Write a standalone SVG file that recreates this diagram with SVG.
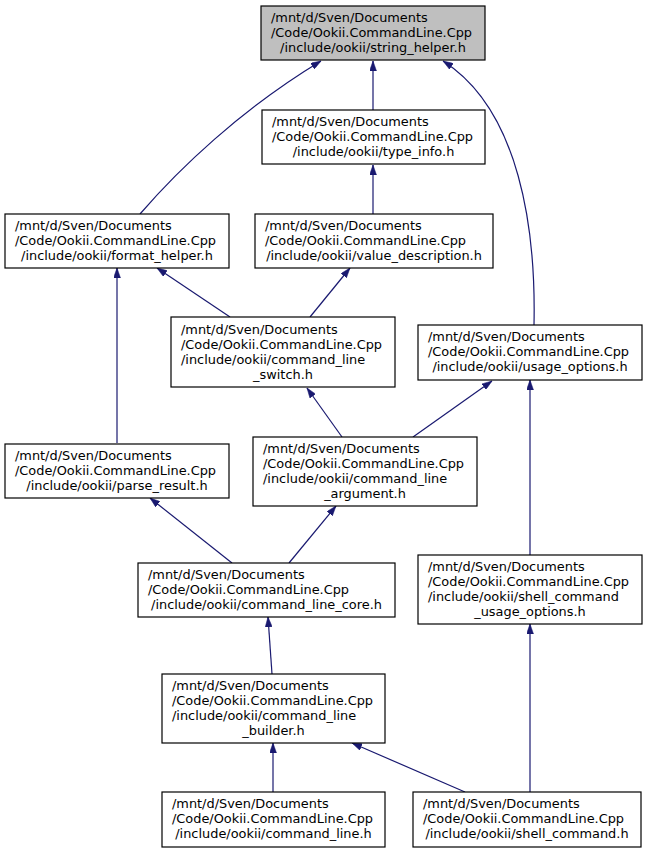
<svg xmlns="http://www.w3.org/2000/svg" width="648" height="853" viewBox="0 0 648 853">
<style>
rect.n{fill:#ffffff;stroke:#000000;stroke-width:1.2}
rect.hl{fill:#bfbfbf}
text{font-family:"DejaVu Sans",sans-serif;font-size:12.9px;fill:#000000}
text.m{text-anchor:middle}
.e{fill:none;stroke:#191970;stroke-width:1.2;marker-end:url(#arr)}
</style>
<defs>
<marker id="arr" viewBox="0 0 10 7" refX="10" refY="3.5" markerWidth="10" markerHeight="7" markerUnits="userSpaceOnUse" orient="auto">
<path d="M0,0 L10,3.5 L0,7 z" fill="#191970" stroke="#191970" stroke-width="0.5"/>
</marker>
</defs>
<rect width="648" height="853" fill="#ffffff"/>
<g id="edges">
<path class="e" d="M140,214 C178,170 240,110 321,61"/>
<path class="e" d="M373,110 L373,61"/>
<path class="e" d="M534,325 C536,230 520,110 443,61"/>
<path class="e" d="M373,214 L373,165"/>
<path class="e" d="M230,317 L157,268"/>
<path class="e" d="M310,317 L350,268"/>
<path class="e" d="M117,443 L117,268"/>
<path class="e" d="M342,437 L307,388"/>
<path class="e" d="M413,437 L492,381"/>
<path class="e" d="M232,563 L150,498"/>
<path class="e" d="M289,563 L336,506"/>
<path class="e" d="M530,555 L530,380"/>
<path class="e" d="M272,674 L268,617"/>
<path class="e" d="M273,792 L273,743"/>
<path class="e" d="M465,792 L352,743"/>
<path class="e" d="M530,792 L530,624"/>
</g>
<g id="string_helper">
<rect class="n hl" x="261" y="6" width="224" height="54"/>
<text x="271" y="21.5">/mnt/d/Sven/Documents</text>
<text x="271" y="36.5">/Code/Ookii.CommandLine.Cpp</text>
<text class="m" x="373" y="51.5">/include/ookii/string_helper.h</text>
</g>
<g id="type_info">
<rect class="n" x="262" y="110" width="223" height="54"/>
<text x="272" y="125.5">/mnt/d/Sven/Documents</text>
<text x="272" y="140.5">/Code/Ookii.CommandLine.Cpp</text>
<text class="m" x="373.5" y="155.5">/include/ookii/type_info.h</text>
</g>
<g id="format_helper">
<rect class="n" x="5" y="214" width="224" height="54"/>
<text x="15" y="229.5">/mnt/d/Sven/Documents</text>
<text x="15" y="244.5">/Code/Ookii.CommandLine.Cpp</text>
<text class="m" x="117" y="259.5">/include/ookii/format_helper.h</text>
</g>
<g id="value_description">
<rect class="n" x="255" y="214" width="238" height="54"/>
<text x="265" y="229.5">/mnt/d/Sven/Documents</text>
<text x="265" y="244.5">/Code/Ookii.CommandLine.Cpp</text>
<text class="m" x="374" y="259.5">/include/ookii/value_description.h</text>
</g>
<g id="command_line_switch">
<rect class="n" x="171" y="317" width="224" height="70"/>
<text x="181" y="333.5">/mnt/d/Sven/Documents</text>
<text x="181" y="348.5">/Code/Ookii.CommandLine.Cpp</text>
<text x="181" y="363.5">/include/ookii/command_line</text>
<text class="m" x="283" y="378.5">_switch.h</text>
</g>
<g id="usage_options">
<rect class="n" x="418" y="325" width="224" height="55"/>
<text x="428" y="340.5">/mnt/d/Sven/Documents</text>
<text x="428" y="355.5">/Code/Ookii.CommandLine.Cpp</text>
<text class="m" x="530" y="370.5">/include/ookii/usage_options.h</text>
</g>
<g id="command_line_argument">
<rect class="n" x="253" y="437" width="224" height="69"/>
<text x="263" y="453">/mnt/d/Sven/Documents</text>
<text x="263" y="468">/Code/Ookii.CommandLine.Cpp</text>
<text x="263" y="483">/include/ookii/command_line</text>
<text class="m" x="365" y="498">_argument.h</text>
</g>
<g id="parse_result">
<rect class="n" x="5" y="444" width="224" height="54"/>
<text x="15" y="459.5">/mnt/d/Sven/Documents</text>
<text x="15" y="474.5">/Code/Ookii.CommandLine.Cpp</text>
<text class="m" x="117" y="489.5">/include/ookii/parse_result.h</text>
</g>
<g id="shell_command_usage_options">
<rect class="n" x="418" y="555" width="224" height="69"/>
<text x="428" y="571">/mnt/d/Sven/Documents</text>
<text x="428" y="586">/Code/Ookii.CommandLine.Cpp</text>
<text x="428" y="601">/include/ookii/shell_command</text>
<text class="m" x="530" y="616">_usage_options.h</text>
</g>
<g id="command_line_core">
<rect class="n" x="138" y="563" width="257" height="54"/>
<text x="148" y="578.5">/mnt/d/Sven/Documents</text>
<text x="148" y="593.5">/Code/Ookii.CommandLine.Cpp</text>
<text class="m" x="266.5" y="608.5">/include/ookii/command_line_core.h</text>
</g>
<g id="command_line_builder">
<rect class="n" x="162" y="674" width="223" height="69"/>
<text x="172" y="690">/mnt/d/Sven/Documents</text>
<text x="172" y="705">/Code/Ookii.CommandLine.Cpp</text>
<text x="172" y="720">/include/ookii/command_line</text>
<text class="m" x="273.5" y="735">_builder.h</text>
</g>
<g id="command_line">
<rect class="n" x="162" y="792" width="223" height="55"/>
<text x="172" y="807.5">/mnt/d/Sven/Documents</text>
<text x="172" y="822.5">/Code/Ookii.CommandLine.Cpp</text>
<text class="m" x="273.5" y="837.5">/include/ookii/command_line.h</text>
</g>
<g id="shell_command">
<rect class="n" x="413" y="792" width="228" height="55"/>
<text x="423" y="807.5">/mnt/d/Sven/Documents</text>
<text x="423" y="822.5">/Code/Ookii.CommandLine.Cpp</text>
<text class="m" x="527" y="837.5">/include/ookii/shell_command.h</text>
</g>
</svg>
